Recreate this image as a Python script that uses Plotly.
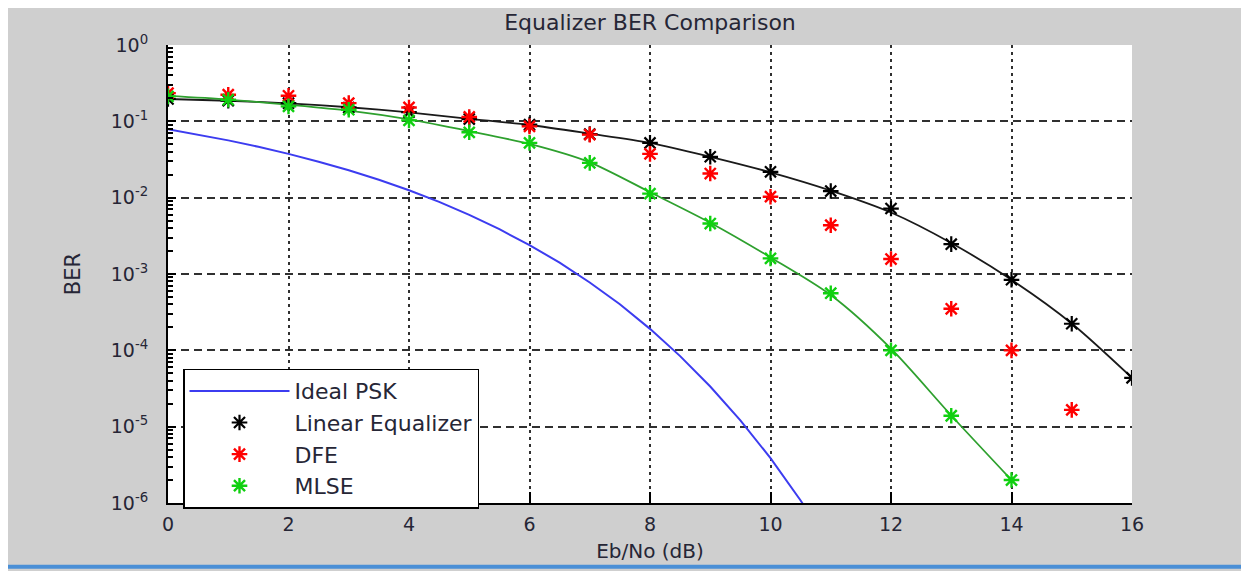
import plotly.graph_objects as go

# ---------------- data ----------------
snr_markers = list(range(0, 17))

linear_eq_ber = [0.196, 0.186, 0.173, 0.152, 0.132, 0.107, 0.0905, 0.068, 0.0522,
                 0.0343, 0.0218, 0.0122, 0.0072, 0.00246, 0.00084, 0.000223, 0.0000436]
# fitted curve through the linear-equalizer points
linear_eq_fit = [0.196, 0.186, 0.172, 0.153, 0.131, 0.108, 0.0895, 0.069, 0.0522,
                 0.0343, 0.0215, 0.0124, 0.0064, 0.00255, 0.00084, 0.000225, 0.0000436]

dfe_snr = list(range(0, 16))
dfe_ber = [0.234, 0.223, 0.216, 0.173, 0.152, 0.114, 0.086, 0.067, 0.0375,
           0.0207, 0.0103, 0.00436, 0.00157, 0.00035, 0.0001, 0.0000166]

mlse_snr = list(range(0, 15))
mlse_ber = [0.212, 0.192, 0.157, 0.142, 0.103, 0.0718, 0.0522, 0.0286, 0.0113,
            0.00458, 0.0016, 0.00056, 0.0001, 0.0000139, 0.000002]
# fitted curve through the MLSE points
mlse_fit = [0.215, 0.193, 0.165, 0.138, 0.106, 0.0745, 0.0505, 0.0290, 0.0118,
            0.00470, 0.00165, 0.00053, 0.000105, 0.0000140, 0.000002]

psk_snr = [0, 0.5, 1, 1.5, 2, 2.5, 3, 3.5, 4, 4.5, 5, 5.5, 6, 6.5, 7, 7.5, 8,
           8.5, 9, 9.5, 10, 10.5, 11]
psk_ber = [0.0786, 0.0671, 0.0563, 0.0464, 0.0375, 0.0296, 0.0229, 0.0172, 0.0125,
           0.00881, 0.00595, 0.00386, 0.00239, 0.00141, 0.000773, 0.000402, 0.000191,
           0.000084, 0.0000336, 0.0000121, 0.00000387, 0.00000108, 0.00000026]

x_ticks = [0, 2, 4, 6, 8, 10, 12, 14, 16]
y_tick_vals = [1e-6, 1e-5, 1e-4, 1e-3, 1e-2, 1e-1, 1e0]
y_tick_text = ["10<sup>-6</sup>", "10<sup>-5</sup>", "10<sup>-4</sup>", "10<sup>-3</sup>",
               "10<sup>-2</sup>", "10<sup>-1</sup>", "10<sup>0</sup>"]

title_text = "Equalizer BER Comparison"
x_title = "Eb/No (dB)"
y_title = "BER"

# ---------------- figure ----------------
# The page body adds an 8px white margin; the figure is sized so that it
# fills the rest of the 1249x571 window exactly.
OFF = 8
FONT = "DejaVu Sans"
TXT = "#262636"
W, H = 1249 - OFF, 571 - OFF
L, R, T, B = 168 - OFF, 117, 45 - OFF, 66
pw = W - L - R
ph = H - T - B

fig = go.Figure()

fig.add_trace(go.Scatter(x=psk_snr, y=psk_ber, mode="lines", name="Ideal PSK",
                         line=dict(color="#3c3cf0", width=2)))
fig.add_trace(go.Scatter(x=snr_markers, y=linear_eq_fit, mode="lines", showlegend=False,
                         line=dict(color="#1a1a1a", width=1.8, shape="spline", smoothing=0.8),
                         hoverinfo="skip"))
fig.add_trace(go.Scatter(x=mlse_snr, y=mlse_fit, mode="lines", showlegend=False,
                         line=dict(color="#2ea02e", width=1.8, shape="spline", smoothing=0.8),
                         hoverinfo="skip"))
fig.add_trace(go.Scatter(x=snr_markers, y=linear_eq_ber, mode="markers", name="Linear Equalizer",
                         marker=dict(symbol="asterisk-open", size=13, color="black",
                                     line=dict(color="black", width=2.2))))
fig.add_trace(go.Scatter(x=dfe_snr, y=dfe_ber, mode="markers", name="DFE",
                         marker=dict(symbol="asterisk-open", size=13, color="red",
                                     line=dict(color="#ff1a1a", width=2.4))))
fig.add_trace(go.Scatter(x=mlse_snr, y=mlse_ber, mode="markers", name="MLSE",
                         marker=dict(symbol="asterisk-open", size=13, color="#10d010",
                                     line=dict(color="#10d010", width=2.4))))

minor_vals = [m * 10.0 ** e for e in range(-6, 0) for m in range(2, 10)]

fig.update_layout(
    width=W, height=H,
    margin=dict(l=L, r=R, t=T, b=B, pad=0),
    paper_bgcolor="#cfcfcf",
    plot_bgcolor="white",
    font=dict(family=FONT, color=TXT, size=19),
    title=dict(text=title_text, x=(L + pw / 2) / W, xanchor="center",
               y=1 - (22 - OFF) / H, yanchor="middle", yref="container",
               font=dict(family=FONT, size=22, color=TXT)),
    xaxis=dict(range=[0, 16], tickmode="array", tickvals=x_ticks,
               ticks="inside", ticklen=11, tickwidth=2, tickcolor="black",
               showline=True, linecolor="black", linewidth=2, mirror=False,
               showgrid=True, gridcolor="#303030", gridwidth=2, griddash="3px,4px",
               zeroline=False, tickfont=dict(size=19, color=TXT),
               ticklabelstandoff=3,
               title=dict(text=x_title, font=dict(size=20, color=TXT), standoff=10)),
    yaxis=dict(type="log", range=[-6, 0], tickmode="array", tickvals=y_tick_vals,
               ticktext=y_tick_text,
               ticks="inside", ticklen=8, tickwidth=2, tickcolor="black",
               minor=dict(tickmode="array", tickvals=minor_vals, ticks="inside",
                          ticklen=5, tickwidth=1.5, tickcolor="black", showgrid=False),
               showline=True, linecolor="black", linewidth=2, mirror=False,
               showgrid=True, gridcolor="#303030", gridwidth=2, griddash="8px,5px",
               zeroline=False, tickfont=dict(size=19, color=TXT),
               ticklabelstandoff=14,
               title=dict(text=y_title, font=dict(size=21, color=TXT), standoff=24)),
    legend=dict(x=(183 - OFF - L) / pw, y=(H - B - (370 - OFF)) / ph,
                xanchor="left", yanchor="top",
                bgcolor="white", bordercolor="black", borderwidth=1.5,
                font=dict(family=FONT, size=22, color=TXT),
                itemwidth=100, tracegroupgap=0),
    showlegend=True,
)

# blue window-frame strip at the very bottom of the screenshot
def px_to_paper_x(px):
    return (px - OFF - L) / pw

def px_to_paper_y(py):
    return (H - B - (py - OFF)) / ph

fig.add_shape(type="rect", xref="paper", yref="paper",
              x0=px_to_paper_x(OFF), x1=px_to_paper_x(1249),
              y0=px_to_paper_y(567), y1=px_to_paper_y(571),
              fillcolor="#4a8fd6", line=dict(width=0), layer="below")

fig.write_html("out.html")
